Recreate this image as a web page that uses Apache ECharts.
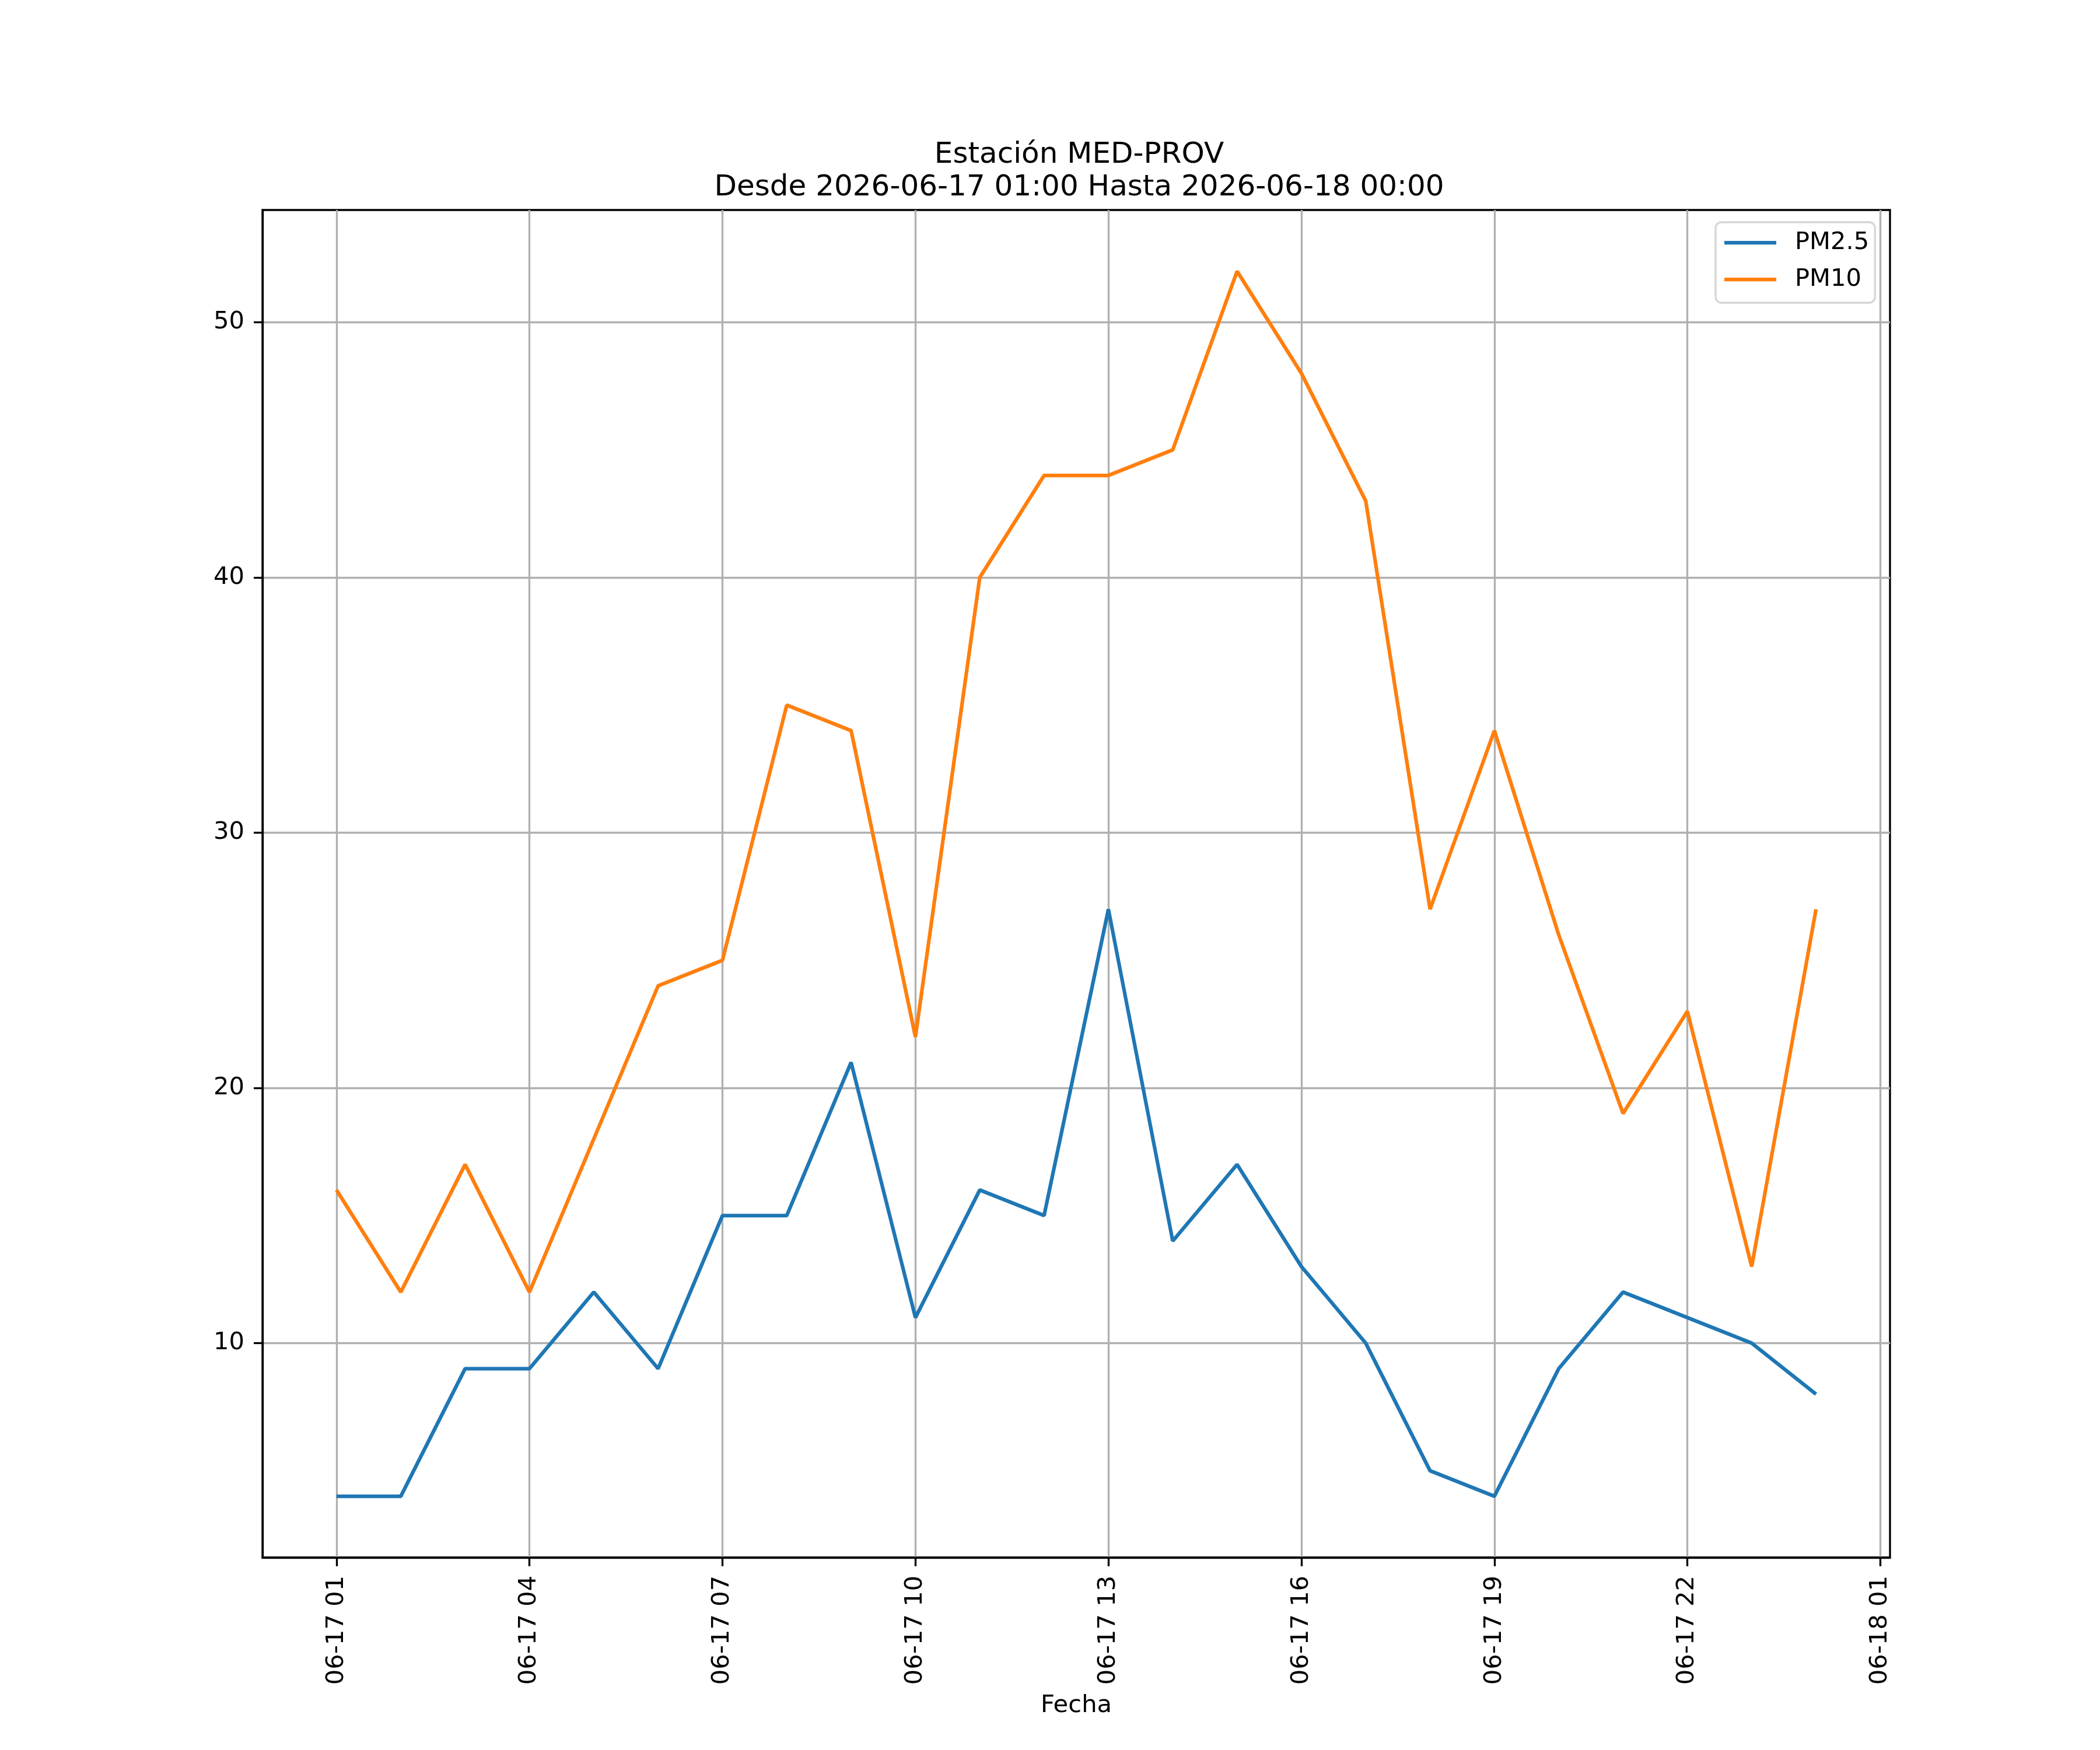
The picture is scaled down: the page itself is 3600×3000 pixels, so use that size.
<!DOCTYPE html>
<html>
<head>
<meta charset="utf-8">
<script src="https://cdn.jsdelivr.net/npm/echarts@6/dist/echarts.min.js"></script>
<style>html,body{margin:0;padding:0;background:#fff}#c{width:3600px;height:3000px}</style>
</head>
<body>
<div id="c"></div>
<script>
// hours since 2026-06-17 00:00
const hours = [1,2,3,4,5,6,7,8,9,10,11,12,13,14,15,16,17,18,19,20,21,22,23,24];
const pm25 = [4,4,9,9,12,9,15,15,21,11,16,15,27,14,17,13,10,5,4,9,12,11,10,8];
const pm10 = [16,12,17,12,18,24,25,35,34,22,40,44,44,45,52,48,43,27,34,26,19,23,13,27];
const xTicks = [1,4,7,10,13,16,19,22,25];
const yTicks = [10,20,30,40,50];
const titleText = 'Estación MED-PROV\nDesde 2026-06-17 01:00 Hasta 2026-06-18 00:00';

function fmtHour(h){
  const day = 17 + Math.floor(h/24);
  const hh = h % 24;
  return '06-' + day + ' ' + String(hh).padStart(2,'0');
}
const FONT = 'DejaVu Sans';
const fs = 41.67;
const chart = echarts.init(document.getElementById('c'), null, {renderer:'canvas'});
const lw = 3.33;
chart.setOption({
  animation:false,
  backgroundColor:'#fff',
  title:{
    text:titleText, left:1845, top:233, textAlign:'center',
    textStyle:{fontFamily:FONT,fontSize:50,fontWeight:'normal',color:'#000',lineHeight:56}
  },
  legend:{
    orient:'vertical', left:2941, top:381,
    padding:[10,10,15,15], itemGap:13,
    itemWidth:89, itemHeight:6.25, icon:'rect',
    borderColor:'#d6d6d6', borderWidth:3.3, borderRadius:10, backgroundColor:'rgba(255,255,255,0.8)',
    textStyle:{fontFamily:FONT,fontSize:fs,color:'#000',lineHeight:50,padding:[0,0,0,27]},
    data:['PM2.5','PM10']
  },
  grid:{left:450,top:360,width:2790,height:2310,show:true,borderColor:'#000',borderWidth:lw,backgroundColor:'transparent'},
  xAxis:{
    type:'value', min:-0.15, max:25.15,
    name:'Fecha', nameLocation:'middle', nameGap:233,
    nameTextStyle:{fontFamily:FONT,fontSize:fs,color:'#000',lineHeight:42},
    axisLine:{show:true,onZero:false,lineStyle:{color:'#000',width:lw}},
    axisTick:{show:true,length:15,lineStyle:{color:'#000',width:lw},customValues:xTicks},
    axisLabel:{fontFamily:FONT,fontSize:fs,color:'#000',rotate:90,margin:31,customValues:xTicks,formatter:v=>fmtHour(Math.round(v))},
    splitLine:{show:true,lineStyle:{color:'#b0b0b0',width:lw}}
  },
  yAxis:{
    type:'value', min:1.6, max:54.4,
    axisLine:{show:true,onZero:false,lineStyle:{color:'#000',width:lw}},
    axisTick:{show:true,length:15,lineStyle:{color:'#000',width:lw},customValues:yTicks},
    axisLabel:{fontFamily:FONT,fontSize:fs,color:'#000',margin:31,customValues:yTicks},
    splitLine:{show:true,lineStyle:{color:'#b0b0b0',width:lw}}
  },
  series:[
    {name:'PM2.5',type:'line',data:hours.map((h,i)=>[h,pm25[i]]),symbol:'none',lineStyle:{color:'#1f77b4',width:6.25},itemStyle:{color:'#1f77b4'}},
    {name:'PM10',type:'line',data:hours.map((h,i)=>[h,pm10[i]]),symbol:'none',lineStyle:{color:'#ff7f0e',width:6.25},itemStyle:{color:'#ff7f0e'}}
  ]
});
</script>
</body>
</html>
